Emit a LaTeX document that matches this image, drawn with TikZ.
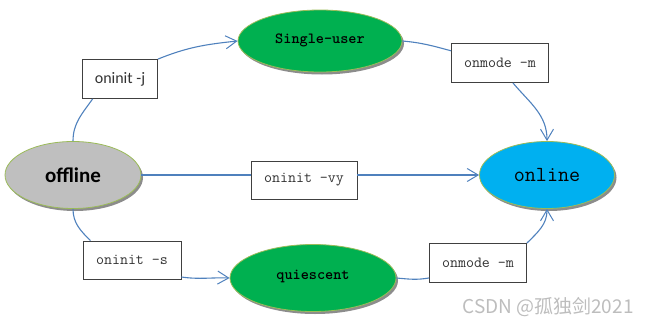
\documentclass[tikz,border=0pt]{standalone}
\usepackage{fontspec}
\newfontfamily\calib{Carlito}
\newfontfamily\cjk{Noto Sans CJK SC}
\usetikzlibrary{arrows.meta,shapes.geometric,shadows}
\definecolor{flowline}{HTML}{4F81BD}
\definecolor{rim}{HTML}{9BBB59}
\definecolor{greenfill}{HTML}{00B050}
\definecolor{bluefill}{HTML}{00B0F0}
\definecolor{greyfill}{HTML}{BFBFBF}
\definecolor{boxline}{HTML}{404040}
\definecolor{ink}{HTML}{333333}
\definecolor{wmgrey}{HTML}{BDBDBD}
\newcommand{\cmdfont}{\fontsize{15.5}{18}\selectfont\ttfamily}
\tikzset{
 state/.style={ellipse,draw=rim,line width=.8pt,inner sep=0pt,text=black,
  drop shadow={shadow xshift=2pt,shadow yshift=-2.5pt,fill=black,opacity=.45}},
 cmd/.style={draw=boxline,fill=white,line width=.8pt,inner sep=0pt,text=ink,font=\cmdfont},
 flow/.style={draw=flowline,line width=1.1pt},
 go/.style={flow,-{Straight Barb[length=11pt,width=13pt,line width=1pt]}},
}

\begin{document}
\begin{tikzpicture}[x=1pt,y=1pt]

\useasboundingbox (0,0) rectangle (650,325);
\node[state,fill=greyfill,minimum width=136pt,minimum height=67pt] (offline) at (73,150) {\raisebox{-5pt}{\calib\bfseries\fontsize{21}{24}\selectfont offline}};
\node[state,fill=bluefill,minimum width=135pt,minimum height=67pt] (online) at (547,150) {\raisebox{-5pt}{\fontsize{21.5}{24}\selectfont\ttfamily online}};
\node[state,fill=greenfill,minimum width=164pt,minimum height=62pt] (single) at (320,284) {\raisebox{4pt}{\cmdfont\bfseries Single-user}};
\node[state,fill=greenfill,minimum width=166pt,minimum height=67pt] (quiet) at (313,47) {\raisebox{6pt}{\cmdfont\bfseries quiescent}};
\node[cmd,minimum width=75pt,minimum height=39pt,font=\calib\fontsize{16}{19}\selectfont] (initj) at (120,246) {oninit -j};
\node[cmd,minimum width=97pt,minimum height=39pt] (modetop) at (500,262) {onmode -m};
\node[cmd,minimum width=106pt,minimum height=38pt] (initvy) at (304,145) {oninit -vy};
\node[cmd,minimum width=98pt,minimum height=38pt] (inits) at (132,65) {oninit -s};
\node[cmd,minimum width=97pt,minimum height=39pt] (modebot) at (478,62) {onmode -m};
\node[text=wmgrey,font=\cjk\fontsize{19}{21}\selectfont,inner sep=0pt] (credit) at (548,18) {CSDN @孤独剑2021};
\draw[flow] (offline.north) to[out=90,in=235] (initj.216);
\draw[go] (initj.north east) to[out=22,in=186] (single.west);
\draw[flow] (single.east) to[out=-5,in=165] (modetop.166);
\draw[go] (modetop.-57) to[out=-50,in=90] (online.north);
\draw[flow] (offline.east) -- (offline.east -| initvy.west);
\draw[go] (initvy.east |- online.west) -- (online.west);
\draw[flow] (offline.south) to[out=-90,in=135] (inits.155);
\draw[go] (inits.-19) to[out=-8,in=178] (quiet.west);
\draw[flow] (quiet.east) to[out=-5,in=190] (modebot.197);
\draw[go] (modebot.north east) to[out=45,in=-90] (online.south);

\end{tikzpicture}
\end{document}
